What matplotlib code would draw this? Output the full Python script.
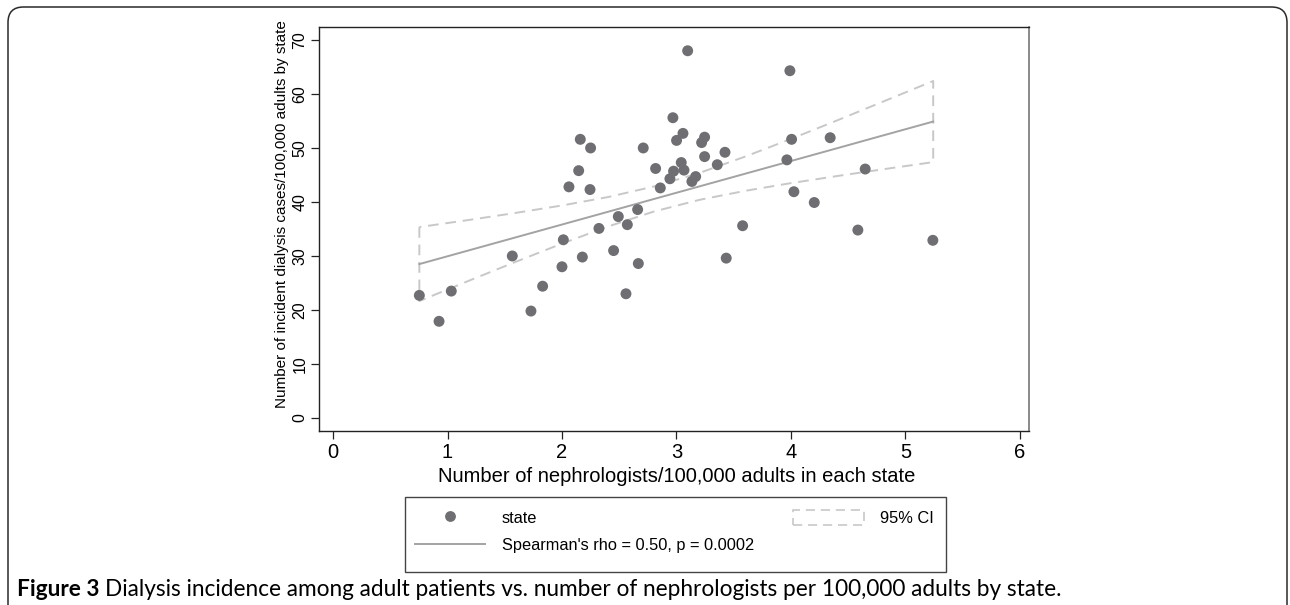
import matplotlib
matplotlib.use("Agg")
import matplotlib.pyplot as plt
from matplotlib.patches import FancyBboxPatch, Patch, Rectangle
from matplotlib.lines import Line2D

# ---------------- data ----------------
nephrologists = [0.754, 0.926, 1.033, 1.566, 1.729, 1.831, 2.000, 2.012, 2.061, 2.146,
                 2.160, 2.178, 2.245, 2.250, 2.323, 2.451, 2.492, 2.559, 2.571, 2.661,
                 2.667, 2.710, 2.818, 2.859, 2.943, 2.969, 2.975, 3.001, 3.042, 3.057,
                 3.066, 3.098, 3.135, 3.168, 3.220, 3.246, 3.246, 3.357, 3.424, 3.435,
                 3.578, 3.965, 3.991, 4.006, 4.026, 4.204, 4.343, 4.585, 4.649, 5.240]
incidence = [22.7, 17.9, 23.5, 30.0, 19.8, 24.4, 28.0, 33.0, 42.8, 45.8,
             51.6, 29.8, 42.3, 50.0, 35.1, 31.0, 37.3, 23.0, 35.8, 38.6,
             28.6, 50.0, 46.2, 42.6, 44.3, 55.6, 45.7, 51.4, 47.3, 52.7,
             45.9, 68.0, 43.8, 44.7, 51.0, 52.0, 48.4, 46.9, 49.2, 29.6,
             35.6, 47.8, 64.3, 51.6, 41.9, 39.9, 51.9, 34.8, 46.1, 32.9]

fit_x = [0.754, 1.2, 1.6, 2.0, 2.4, 2.8, 3.2, 3.6, 4.0, 4.4, 4.8, 5.243]
fit_y = [28.50, 31.12, 33.47, 35.82, 38.17, 40.53, 42.88, 45.23, 47.58, 49.93, 52.29, 54.89]
ci_upper = [35.35, 36.71, 37.99, 39.35, 40.90, 42.85, 45.37, 48.40, 51.67, 55.07, 58.54, 62.40]
ci_lower = [21.65, 25.53, 28.95, 32.29, 35.44, 38.21, 40.39, 42.06, 43.49, 44.79, 46.04, 47.38]

x_ticks = [0, 1, 2, 3, 4, 5, 6]
y_ticks = [0, 10, 20, 30, 40, 50, 60, 70]

x_label = "Number of nephrologists/100,000 adults in each state"
y_label = "Number of incident dialysis cases/100,000 adults by state"
legend_labels = ["state", "Spearman's rho = 0.50, p = 0.0002", "95% CI"]
caption_bold = "Figure 3"
caption_rest = "Dialysis incidence among adult patients vs. number of nephrologists per 100,000 adults by state."

# ---------------- styling ----------------
W, H = 1290, 605
plt.rcParams['font.family'] = ['Liberation Sans', 'DejaVu Sans']
MARK = '#6f6f73'
FITC = '#a3a3a3'
CIC = '#c8c8c8'
DASH = (0, (5.5, 3.5))

fig = plt.figure(figsize=(W / 100, H / 100), dpi=100)

# outer rounded frame (open at the bottom)
frame = FancyBboxPatch((8 / W, -0.05), (1287 - 8) / W, (605 - 7) / H + 0.05,
                       boxstyle="round,pad=0,rounding_size=0.012",
                       transform=fig.transFigure, facecolor='none',
                       edgecolor='#2a2a2a', linewidth=1.1, mutation_aspect=W / H)
fig.patches.append(frame)

left, right, top, bottom = 319.3, 1029.0, 27.0, 431.0
ax = fig.add_axes([left / W, 1 - bottom / H, (right - left) / W, (bottom - top) / H])

ax.scatter(nephrologists, incidence, s=62, color=MARK, edgecolors='none', zorder=3)
ax.plot(fit_x, fit_y, color=FITC, lw=1.4, zorder=2)
ax.fill_between(fit_x, ci_lower, ci_upper, facecolor='none', edgecolor=CIC,
                linestyle=DASH, linewidth=1.4, zorder=1)

ax.set_xlim(-0.12, 6.08)
ax.set_ylim(-2.41, 72.4)
ax.set_xticks(x_ticks)
ax.set_yticks(y_ticks)
ax.set_xticklabels([str(v) for v in x_ticks], fontsize=14.5)
ax.set_yticklabels([str(v) for v in y_ticks], fontsize=11.5, rotation=90, va='center')
ax.tick_params(axis='both', direction='out', length=6, width=0.9, color='#222222')
ax.tick_params(axis='x', pad=3)
ax.tick_params(axis='y', pad=2.5)
for side in ['top', 'left', 'bottom']:
    ax.spines[side].set_color('#222222')
    ax.spines[side].set_linewidth(1.0)
ax.spines['right'].set_color('#777777')
ax.spines['right'].set_linewidth(1.2)

fig.text(282 / W, 1 - 214 / H, y_label, rotation=90, ha='center', va='center', fontsize=11)
fig.text((333 + 1020) / 2 / W, 1 - 476 / H, x_label, ha='center', va='center', fontsize=14.5)

# legend box (frame drawn separately) and entries
fig.patches.append(Rectangle((405 / W, 1 - 572 / H), (946 - 405) / W, (572 - 497) / H,
                             transform=fig.transFigure, facecolor='white',
                             edgecolor='#444444', linewidth=1.0))
h_state = Line2D([], [], marker='o', linestyle='none', markersize=7.8,
                 markerfacecolor=MARK, markeredgecolor='none')
h_fit = Line2D([], [], color=FITC, lw=1.4)
h_ci = Patch(facecolor='none', edgecolor=CIC, linestyle=DASH, linewidth=1.2)
leg = fig.legend([h_state, h_fit, h_ci], legend_labels, ncol=2,
                 loc='center left', bbox_to_anchor=(415 / W, 1 - 531.5 / H),
                 bbox_transform=fig.transFigure, fontsize=11.8, frameon=False,
                 borderaxespad=0, borderpad=0,
                 handlelength=4.3, handleheight=1.0, handletextpad=1.0,
                 columnspacing=2.4, labelspacing=0.68)

# caption: bold part + regular part, fitted to the reference width
r = fig.canvas.get_renderer()
cy = 1 - 590 / H
fs = 14.5
t1 = fig.text(17 / W, cy, caption_bold, fontweight='bold', fontsize=fs,
              family=['Lato', 'DejaVu Sans'], ha='left', va='center')
bb = t1.get_window_extent(renderer=r)
t2 = fig.text((bb.x1 + 5) / W, cy, caption_rest, fontsize=fs,
              family=['Lato', 'DejaVu Sans'], ha='left', va='center')
end = t2.get_window_extent(renderer=r).x1
scale = (1060 - 17) / (end - 17)
fs2 = fs * scale
t1.set_fontsize(fs2)
bb = t1.get_window_extent(renderer=r)
t2.set_fontsize(fs2)
t2.set_x((bb.x1 + 5 * scale) / W)

fig.savefig("out.png", dpi=100)
